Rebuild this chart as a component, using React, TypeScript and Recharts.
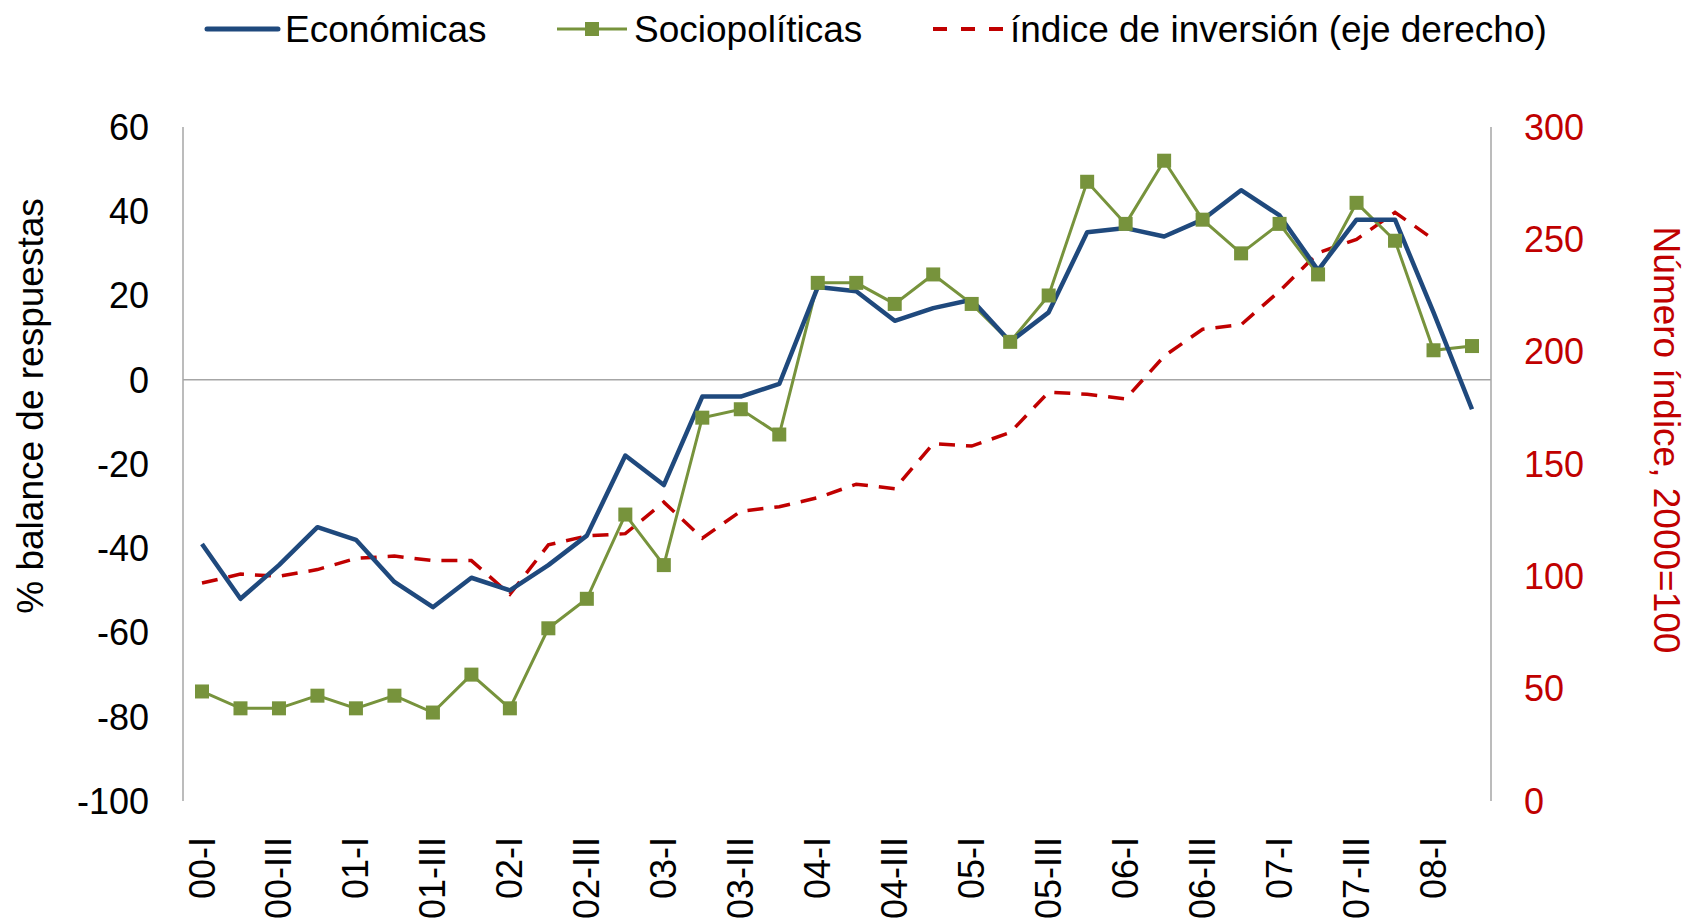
import { LineChart, Line, XAxis, YAxis, ReferenceLine } from "recharts";

const W = 1685;
const H = 921;
const FONT = '"Liberation Sans", Arial, sans-serif';

const BLUE = "#1F497D";
const GREEN = "#77933C";
const RED = "#C00000";
const GRAY = "#A6A6A6";

const QUARTERS = [
  "00-I", "00-II", "00-III", "00-IV",
  "01-I", "01-II", "01-III", "01-IV",
  "02-I", "02-II", "02-III", "02-IV",
  "03-I", "03-II", "03-III", "03-IV",
  "04-I", "04-II", "04-III", "04-IV",
  "05-I", "05-II", "05-III", "05-IV",
  "06-I", "06-II", "06-III", "06-IV",
  "07-I", "07-II", "07-III", "07-IV",
  "08-I", "08-II",
];

// % balance de respuestas (eje izquierdo)
const ECONOMICAS = [
  -39, -52, -44, -35, -38, -48, -54, -47, -50, -44, -37, -18,
  -25, -4, -4, -1, 22, 21, 14, 17, 19, 9, 16, 35,
  36, 34, 38, 45, 39, 26, 38, 38, 16, -7,
];

const SOCIOPOLITICAS = [
  -74, -78, -78, -75, -78, -75, -79, -70, -78, -59, -52, -32,
  -44, -9, -7, -13, 23, 23, 18, 25, 18, 9, 20, 47,
  37, 52, 38, 30, 37, 25, 42, 33, 7, 8,
];

// índice de inversión, 2000=100 (eje derecho)
const INVERSION: (number | null)[] = [
  97, 101, 100, 103, 108, 109, 107, 107, 92, 114, 118, 119,
  133, 117, 129, 131, 135, 141, 139, 159, 158, 164, 182, 181,
  179, 198, 210, 212, 227, 244, 250, 262, 250, null,
];

const LEFT_TICKS = [-100, -80, -60, -40, -20, 0, 20, 40, 60];
const RIGHT_TICKS = [0, 50, 100, 150, 200, 250, 300];

const data = QUARTERS.map((q, i) => ({
  q,
  eco: ECONOMICAS[i],
  soc: SOCIOPOLITICAS[i],
  inv: INVERSION[i],
}));

function QuarterTick(props: any) {
  const { x, y, payload } = props;
  return (
    <text
      x={x}
      y={y}
      transform={`rotate(-90, ${x}, ${y})`}
      textAnchor="end"
      dominantBaseline="central"
      fontFamily={FONT}
      fontSize={36}
      fill="#000"
    >
      {payload.value}
    </text>
  );
}

function SquareDot(props: any) {
  const { cx, cy, index } = props;
  if (cx == null || cy == null) return <g key={index} />;
  return <rect key={index} x={cx - 7} y={cy - 7} width={14} height={14} fill={GREEN} />;
}

function Legend() {
  return (
    <svg
      width={W}
      height={60}
      style={{ position: "absolute", left: 0, top: 0 }}
      fontFamily={FONT}
      fontSize={37}
    >
      <line x1={207} y1={29} x2={278} y2={29} stroke={BLUE} strokeWidth={5} strokeLinecap="round" />
      <text x={285} y={41.5} fill="#000">Económicas</text>
      <line x1={557} y1={29} x2={627} y2={29} stroke={GREEN} strokeWidth={3} />
      <rect x={585} y={22} width={14} height={14} fill={GREEN} />
      <text x={634} y={41.5} fill="#000">Sociopolíticas</text>
      <line x1={933} y1={29} x2={1003} y2={29} stroke={RED} strokeWidth={4} strokeDasharray="14 14" />
      <text x={1010} y={41.5} fill="#000">índice de inversión (eje derecho)</text>
    </svg>
  );
}

export default function App() {
  return (
    <div style={{ position: "absolute", left: 0, top: 0, width: W, height: H, background: "#fff" }}>
      <LineChart
        width={W}
        height={H}
        data={data}
        margin={{ top: 127, right: 0, bottom: 0, left: 0 }}
      >
        <XAxis
          dataKey="q"
          scale="point"
          padding={{ left: 19, right: 19 }}
          interval={1}
          axisLine={false}
          tickLine={false}
          tickSize={0}
          tickMargin={36}
          height={120}
          tick={<QuarterTick />}
        />
        <YAxis
          yAxisId="left"
          orientation="left"
          width={183}
          domain={[-100, 60]}
          ticks={LEFT_TICKS}
          interval={0}
          axisLine={{ stroke: GRAY, strokeWidth: 1.5 }}
          tickLine={false}
          tickSize={0}
          tickMargin={34}
          tick={{ fontFamily: FONT, fontSize: 36, fill: "#000" }}
          label={{
            content: () => (
              <text
                x={30}
                y={406}
                transform="rotate(-90, 30, 406)"
                textAnchor="middle"
                dominantBaseline="central"
                fontFamily={FONT}
                fontSize={37}
                fill="#000"
              >
                % balance de respuestas
              </text>
            ),
          }}
        />
        <YAxis
          yAxisId="right"
          orientation="right"
          width={194}
          domain={[0, 300]}
          ticks={RIGHT_TICKS}
          interval={0}
          axisLine={{ stroke: GRAY, strokeWidth: 1.5 }}
          tickLine={false}
          tickSize={0}
          tickMargin={33}
          tick={{ fontFamily: FONT, fontSize: 36, fill: RED }}
          label={{
            content: () => (
              <text
                x={1666}
                y={440}
                transform="rotate(90, 1666, 440)"
                textAnchor="middle"
                dominantBaseline="central"
                fontFamily={FONT}
                fontSize={37}
                fill={RED}
              >
                Número índice, 2000=100
              </text>
            ),
          }}
        />
        <ReferenceLine yAxisId="left" y={0} stroke={GRAY} strokeWidth={1.5} />
        <Line
          yAxisId="right"
          dataKey="inv"
          stroke={RED}
          strokeWidth={3.5}
          strokeDasharray="16 11"
          dot={false}
          isAnimationActive={false}
        />
        <Line
          yAxisId="left"
          dataKey="soc"
          stroke={GREEN}
          strokeWidth={3}
          dot={<SquareDot />}
          isAnimationActive={false}
        />
        <Line
          yAxisId="left"
          dataKey="eco"
          stroke={BLUE}
          strokeWidth={4.5}
          strokeLinejoin="round"
          dot={false}
          isAnimationActive={false}
        />
      </LineChart>
      <Legend />
    </div>
  );
}
